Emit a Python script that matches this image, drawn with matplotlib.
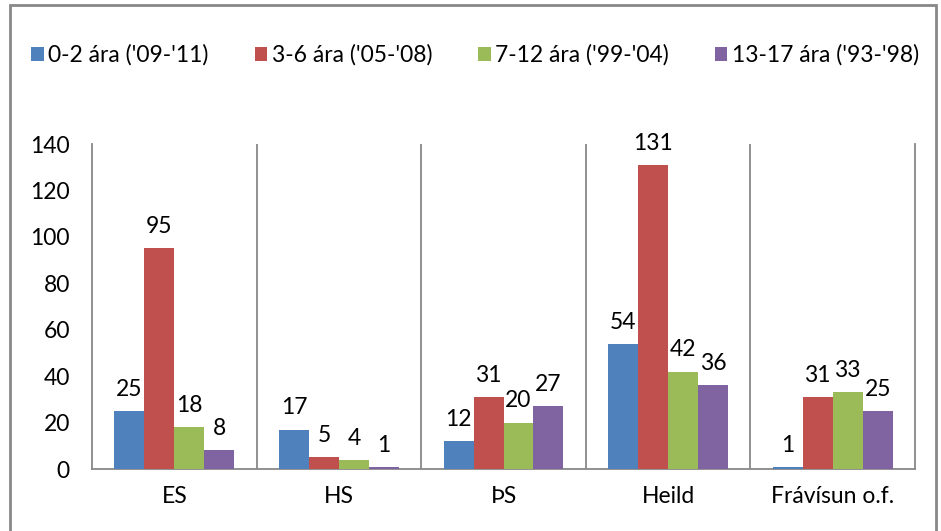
import matplotlib
matplotlib.use("Agg")
import matplotlib.pyplot as plt
import numpy as np
from matplotlib.patches import Rectangle

categories = ["ES", "HS", "ÞS", "Heild", "Frávísun o.f."]
series_names = ["0-2 ára ('09-'11)", "3-6 ára ('05-'08)", "7-12 ára ('99-'04)", "13-17 ára ('93-'98)"]
v_0_2 = [25, 17, 12, 54, 1]
v_3_6 = [95, 5, 31, 131, 31]
v_7_12 = [18, 4, 20, 42, 33]
v_13_17 = [8, 1, 27, 36, 25]
colors = ["#4F81BD", "#C0504D", "#9BBB59", "#8064A2"]
yticks = [0, 20, 40, 60, 80, 100, 120, 140]

FS = 16.5
plt.rcParams['font.family'] = ['Lato', 'DejaVu Sans']
fig = plt.figure(figsize=(9.41, 5.31), dpi=100)
ax = fig.add_axes([92/941, 62/531, (915-92)/941, (469-144)/531])

series = [v_0_2, v_3_6, v_7_12, v_13_17]
x = np.arange(len(categories))
bw = 0.182
for i, (vals, c, name) in enumerate(zip(series, colors, series_names)):
    pos = x + (i - 1.5) * bw
    ax.bar(pos, vals, width=bw, color=c, label=name, zorder=3)
    for p, v in zip(pos, vals):
        ax.annotate(str(v), (p, v), xytext=(0, 8), textcoords="offset points",
                    ha="center", va="bottom", fontsize=FS, color="black")

ax.set_xlim(-0.5, len(categories) - 0.5)
ax.set_ylim(0, 140)
ax.set_yticks(yticks)
ax.set_xticks(x)
ax.set_xticklabels(categories)
for b in np.arange(0.5, len(categories) - 0.5, 1):
    ax.axvline(b, color="#888888", lw=1.3, zorder=1)
ax.tick_params(axis="both", length=0, labelsize=FS)
ax.tick_params(axis="y", pad=16)
ax.tick_params(axis="x", pad=12)
ax.spines["top"].set_visible(False)
for s in ["left", "bottom", "right"]:
    ax.spines[s].set_color("#888888")
    ax.spines[s].set_linewidth(1.3)

fig.legend(loc="center left", bbox_to_anchor=(22/941, 1 - 55/531), ncol=4,
           frameon=False, fontsize=FS, handlelength=0.55, handleheight=0.55,
           handletextpad=0.2, columnspacing=2.0, borderaxespad=0)

fig.patches.append(Rectangle((10/941, -0.02), 0.995 - 10/941, 1.02 - 5/531,
                             transform=fig.transFigure, fill=False,
                             edgecolor="#888888", lw=2))
fig.savefig("out.png", dpi=100)
